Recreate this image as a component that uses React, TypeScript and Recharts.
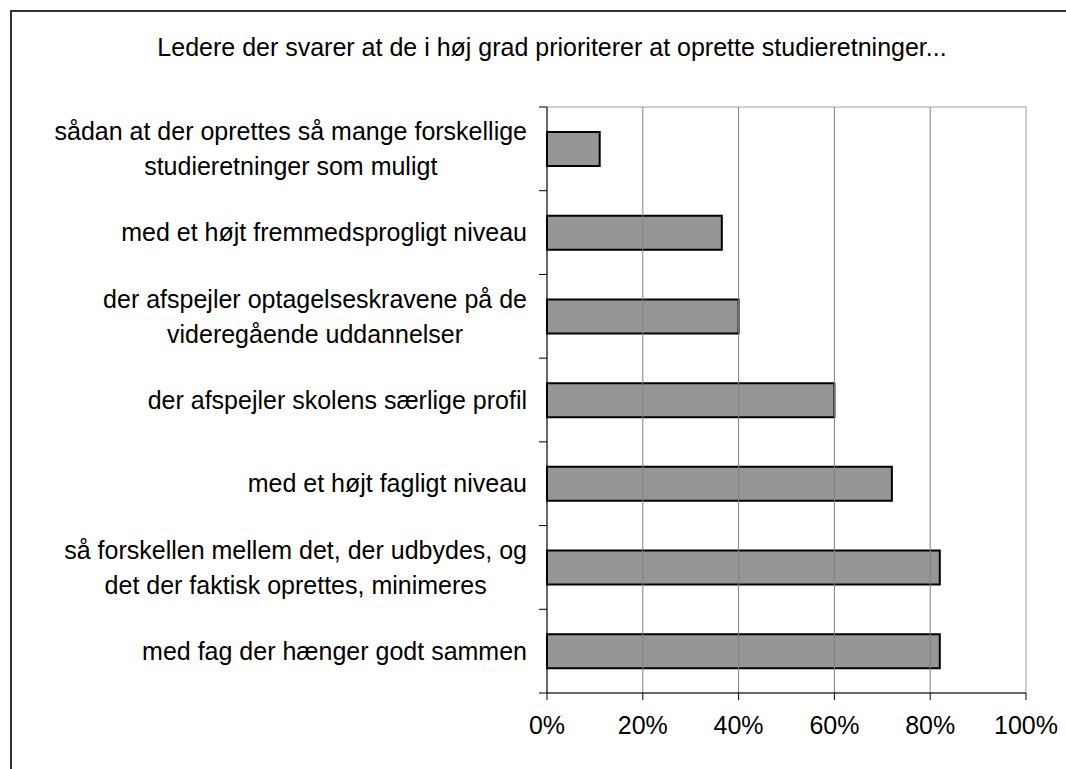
import { BarChart, Bar, XAxis, YAxis, ReferenceLine, ReferenceArea } from 'recharts';

// top-to-bottom order, "\n" marks the line break used in the picture
const categories = [
  'sådan at der oprettes så mange forskellige\nstudieretninger som muligt',
  'med et højt fremmedsprogligt niveau',
  'der afspejler optagelseskravene på de\nvideregående uddannelser',
  'der afspejler skolens særlige profil',
  'med et højt fagligt niveau',
  'så forskellen mellem det, der udbydes, og\ndet der faktisk oprettes, minimeres',
  'med fag der hænger godt sammen',
];
const shares = [11, 36.5, 40, 60, 72, 82, 82];
const xTicks = [0, 20, 40, 60, 80, 100];
const gridTicks = [20, 40, 60, 80];

const data = categories.map((name, i) => ({ name, value: shares[i] }));

const W = 1066;
const H = 769;
const FONT = '"Liberation Sans", Arial, sans-serif';
const FS = 25;
const Y_AXIS_W = 547;
const TOP = 107;
const X_AXIS_H = 76;
const BAND = (H - TOP - X_AXIS_H) / categories.length;

let ctx: CanvasRenderingContext2D | null = null;
const measure = (s: string) => {
  if (!ctx) {
    ctx = document.createElement('canvas').getContext('2d');
    if (ctx) ctx.font = `${FS}px ${FONT}`;
  }
  return ctx ? ctx.measureText(s).width : s.length * FS * 0.5;
};

const CategoryTick = (props: any) => {
  const { y, payload, index } = props;
  const lines: string[] = String(payload.value).split('\n');
  const blockW = Math.max(...lines.map(measure));
  const cx = Y_AXIS_W - 20 - blockW / 2;
  const lh = 35;
  const y0 = y - ((lines.length - 1) * lh) / 2;
  return (
    <g>
      <line x1={Y_AXIS_W - 8} x2={Y_AXIS_W} y1={y - BAND / 2} y2={y - BAND / 2} stroke="#000" />
      {index === categories.length - 1 && (
        <line x1={Y_AXIS_W - 8} x2={Y_AXIS_W} y1={y + BAND / 2} y2={y + BAND / 2} stroke="#000" />
      )}
      <text x={cx} y={y0} textAnchor="middle" fontSize={FS} fontFamily={FONT} fill="#000">
        {lines.map((l, i) => (
          <tspan key={i} x={cx} dy={i === 0 ? '0.35em' : lh}>
            {l}
          </tspan>
        ))}
      </text>
    </g>
  );
};

export default function App() {
  return (
    <div style={{ position: 'absolute', left: 0, top: 0, width: W, height: H, overflow: 'hidden', background: '#fff' }}>
      <div
        style={{
          position: 'absolute',
          left: 10,
          top: 10,
          width: 1100,
          height: 800,
          border: '2px solid #333',
        }}
      />
      <div
        style={{
          position: 'absolute',
          left: 0,
          top: 33,
          width: 1104,
          textAlign: 'center',
          fontFamily: FONT,
          fontSize: 25,
          color: '#000',
        }}
      >
        Ledere der svarer at de i høj grad prioriterer at oprette studieretninger...
      </div>
      <div style={{ position: 'absolute', left: 0, top: 0 }}>
        <BarChart
          width={W}
          height={H}
          data={data}
          layout="vertical"
          margin={{ top: TOP, right: 40, bottom: 0, left: 0 }}
          barCategoryGap={0}
        >
          <ReferenceArea x1={0} x2={100} fill="none" stroke="#c0c0c0" strokeWidth={1.5} ifOverflow="visible" />
          {gridTicks.map((t) => (
            <ReferenceLine key={t} x={t} stroke="#808080" strokeWidth={1} />
          ))}
          <XAxis
            type="number"
            domain={[0, 100]}
            ticks={xTicks}
            tickFormatter={(v) => `${v}%`}
            height={X_AXIS_H}
            stroke="#000"
            tickSize={7}
            tickMargin={16}
            tick={{ fill: '#000', fontSize: FS, fontFamily: FONT }}
            interval={0}
          />
          <YAxis
            type="category"
            dataKey="name"
            width={Y_AXIS_W}
            stroke="#000"
            tickLine={false}
            tick={<CategoryTick />}
            interval={0}
          />
          <Bar dataKey="value" fill="#969696" stroke="#000" strokeWidth={2} barSize={34} isAnimationActive={false} />
        </BarChart>
      </div>
    </div>
  );
}
